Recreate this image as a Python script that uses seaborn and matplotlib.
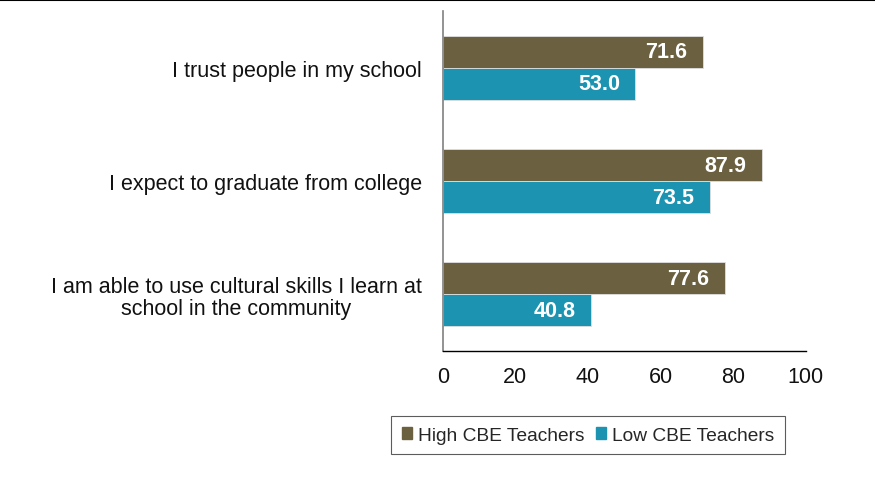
import matplotlib
matplotlib.use("Agg")
import matplotlib.pyplot as plt
import seaborn as sns
import pandas as pd
from matplotlib.lines import Line2D

categories = [
    "I trust people in my school",
    "I expect to graduate from college",
    "I am able to use cultural skills I learn at\nschool in the community",
]
high_cbe = [71.6, 87.9, 77.6]
low_cbe = [53.0, 73.5, 40.8]
series = ["High CBE Teachers", "Low CBE Teachers"]
colors = ["#6B6140", "#1C93B0"]
xticks = [0, 20, 40, 60, 80, 100]

df = pd.DataFrame({
    "category": categories * 2,
    "value": high_cbe + low_cbe,
    "series": [series[0]] * 3 + [series[1]] * 3,
})

sns.set_theme(style="white")
plt.rcParams["font.family"] = ["Liberation Sans", "DejaVu Sans"]

fig = plt.figure(figsize=(8.75, 4.89), dpi=100)
ax = fig.add_axes([0.506, 0.280, 0.415, 0.695])

sns.barplot(data=df, y="category", x="value", hue="series", orient="h",
            palette=colors, saturation=1, width=0.565, ax=ax, legend=True,
            edgecolor="#e0e0e0", linewidth=0.6)

ax.set_xlim(0, 100)
ax.set_xticks(xticks)
ax.set_xticklabels([str(t) for t in xticks], fontsize=15.5, color="#111111")
ax.set_xlabel("")
ax.set_ylabel("")
ax.set_ylim(2.5, -0.5)

for lbl in ax.get_yticklabels():
    lbl.set_fontsize(15.5)
    lbl.set_multialignment("center")
    lbl.set_linespacing(1.05)
    lbl.set_color("#111111")
ax.tick_params(axis="y", length=0, pad=15)
ax.tick_params(axis="x", length=5, width=1, color="black", direction="out", pad=6)

for s in ["top", "right"]:
    ax.spines[s].set_visible(False)
ax.spines["bottom"].set_color("black")
ax.spines["bottom"].set_linewidth(1)
ax.spines["left"].set_color("#808080")
ax.spines["left"].set_linewidth(1.2)

for cont in ax.containers:
    for bar in cont:
        w = bar.get_width()
        y = bar.get_y() + bar.get_height() / 2
        ax.annotate(f"{w:.1f}", xy=(w, y), xytext=(-11, 0),
                    textcoords="offset points", ha="right", va="center",
                    color="white", fontsize=15.5, fontweight="bold")

ax.legend_.remove()
handles = [plt.Rectangle((0, 0), 1, 1, color=c) for c in colors]
leg = fig.legend(handles, series, loc="center", bbox_to_anchor=(0.672, 0.108),
                 ncol=2, frameon=True, fancybox=False, fontsize=13.8,
                 handlelength=0.55, handleheight=0.55, handletextpad=0.3,
                 columnspacing=0.6, borderpad=0.55)
leg.get_frame().set_edgecolor("#333333")
leg.get_frame().set_linewidth(0.8)

fig.add_artist(Line2D([0, 1], [0.998, 0.998], transform=fig.transFigure,
                      color="black", linewidth=1.5))

fig.savefig("out.png", dpi=100)
